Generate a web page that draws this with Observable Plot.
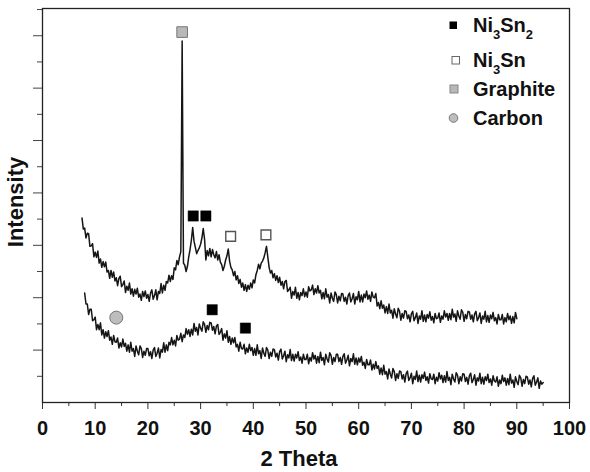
<!DOCTYPE html>
<html>
<head>
<meta charset="utf-8">
<script src="https://cdn.jsdelivr.net/npm/d3@7"></script>
<script src="https://cdn.jsdelivr.net/npm/@observablehq/plot@0.6"></script>
<style>
  html, body { margin: 0; padding: 0; background: #fff; }
  #wrap { position: relative; width: 590px; height: 472px; }
  #legend { position: absolute; left: 0; top: 0; pointer-events: none; }
  #legend text { font-family: "Liberation Sans", Arial, sans-serif; font-weight: bold; fill: #111; }
</style>
</head>
<body>
<div id="wrap"></div>
<script>
// ---- data ----
const thetaStep = 0.25;
const topStart = 7.5;
const topIntensity = [
  3.52, 3.31,
  3.33, 3.14, 3.23, 3.22,
  2.98, 2.99, 3.03, 2.78,
  2.87, 2.77, 2.89, 2.66,
  2.74, 2.58, 2.69, 2.59,
  2.68, 2.49, 2.52, 2.37,
  2.52, 2.39, 2.49, 2.32,
  2.38, 2.23, 2.37, 2.41,
  2.21, 2.25, 2.32, 2.10,
  2.22, 2.14, 2.28, 2.07,
  2.17, 2.03, 2.16, 2.07,
  2.18, 2.01, 2.07, 1.95,
  2.12, 2.02, 2.13, 1.99,
  2.06, 1.93, 2.09, 2.15,
  1.97, 2.04, 2.15, 1.96,
  2.12, 2.08, 2.27, 2.09,
  2.24, 2.14, 2.31, 2.28,
  2.43, 2.31, 2.42, 2.35,
  2.57, 2.53, 2.71, 2.63,
  2.78, 2.88, 6.90, 2.66,
  2.62, 2.50, 2.60, 2.78,
  2.92, 3.10, 3.34, 3.08,
  2.96, 2.84, 2.90, 2.95,
  3.02, 3.14, 3.32, 3.12,
  2.72, 2.90, 2.80, 2.94,
  2.78, 2.92, 2.82, 2.76,
  2.88, 2.72, 2.82, 2.68,
  2.63, 2.52, 2.60, 2.72,
  2.80, 2.93, 2.70, 2.58,
  2.53, 2.42, 2.50, 2.34,
  2.42, 2.27, 2.35, 2.20,
  2.28, 2.14, 2.25, 2.12,
  2.24, 2.16, 2.28, 2.19,
  2.34, 2.28, 2.44, 2.52,
  2.64, 2.55, 2.66, 2.70,
  2.76, 2.86, 2.98, 2.78,
  2.58, 2.47, 2.52, 2.38,
  2.46, 2.33, 2.42, 2.29,
  2.39, 2.24, 2.31, 2.17,
  2.31, 2.33, 2.12, 2.15,
  2.20, 1.99, 2.12, 2.05,
  2.20, 1.99, 2.10, 1.96,
  2.10, 2.04, 2.17, 2.02,
  2.11, 2.01, 2.21, 2.13,
  2.15, 2.24, 2.06, 2.17,
  2.09, 2.23, 2.09, 2.14,
  1.98, 2.10, 1.98, 2.17,
  2.01, 2.06, 1.90, 2.09,
  1.99, 1.93, 2.11, 2.06,
  1.90, 2.03, 1.94, 2.08,
  2.07, 1.93, 2.01, 1.88,
  2.04, 2.09, 1.92, 1.98,
  2.08, 1.88, 2.02, 1.96,
  2.12, 1.92, 2.05, 1.92,
  2.07, 2.00, 2.13, 1.97,
  2.05, 1.93, 2.11, 2.01,
  2.00, 2.08, 1.84, 1.91,
  1.79, 1.94, 1.80, 1.86,
  1.71, 1.83, 1.70, 1.88,
  1.71, 1.76, 1.61, 1.79,
  1.69, 1.62, 1.80, 1.74,
  1.57, 1.70, 1.61, 1.75,
  1.74, 1.60, 1.67, 1.54,
  1.69, 1.74, 1.56, 1.62,
  1.71, 1.51, 1.65, 1.59,
  1.75, 1.55, 1.67, 1.54,
  1.68, 1.61, 1.73, 1.57,
  1.64, 1.52, 1.70, 1.60,
  1.61, 1.71, 1.53, 1.65,
  1.59, 1.75, 1.63, 1.70,
  1.57, 1.70, 1.58, 1.78,
  1.63, 1.69, 1.55, 1.75,
  1.65, 1.59, 1.77, 1.72,
  1.55, 1.68, 1.60, 1.74,
  1.73, 1.59, 1.67, 1.54,
  1.69, 1.74, 1.56, 1.62,
  1.71, 1.51, 1.65, 1.59,
  1.74, 1.54, 1.66, 1.53,
  1.67, 1.60, 1.72, 1.56,
  1.62, 1.50, 1.68, 1.58,
  1.58, 1.68, 1.50, 1.62,
  1.54, 1.70, 1.58, 1.65,
  1.51, 1.64, 1.52, 1.72,
  1.60
];

const bottomStart = 8;
const bottomIntensity = [
  2.09, 1.88, 1.88, 1.68,
  1.78, 1.78, 1.56, 1.58,
  1.63, 1.39, 1.49, 1.39,
  1.52, 1.29, 1.39, 1.23,
  1.35, 1.26, 1.37, 1.19,
  1.25, 1.11, 1.28, 1.16,
  1.15, 1.23, 1.04, 1.14,
  1.06, 1.21, 1.07, 1.13,
  0.98, 1.10, 0.96, 1.15,
  0.98, 1.03, 0.88, 1.08,
  0.98, 0.91, 1.08, 1.03,
  0.86, 0.98, 0.90, 1.03,
  1.03, 0.89, 0.97, 0.84,
  1.00, 1.05, 0.88, 0.94,
  1.04, 0.85, 1.01, 0.96,
  1.14, 0.96, 1.10, 0.99,
  1.15, 1.10, 1.24, 1.10,
  1.19, 1.08, 1.28, 1.19,
  1.21, 1.32, 1.16, 1.29,
  1.24, 1.41, 1.30, 1.39,
  1.26, 1.40, 1.29, 1.51,
  1.36, 1.43, 1.29, 1.50,
  1.42, 1.36, 1.54, 1.49,
  1.34, 1.47, 1.39, 1.53,
  1.52, 1.38, 1.45, 1.31,
  1.46, 1.49, 1.30, 1.34,
  1.41, 1.19, 1.31, 1.23,
  1.37, 1.15, 1.26, 1.11,
  1.23, 1.14, 1.24, 1.06,
  1.11, 0.98, 1.15, 1.03,
  1.02, 1.11, 0.93, 1.04,
  0.96, 1.11, 0.99, 1.05,
  0.90, 1.03, 0.90, 1.10,
  0.93, 0.99, 0.84, 1.04,
  0.94, 0.88, 1.05, 1.00,
  0.84, 0.96, 0.88, 1.02,
  1.01, 0.87, 0.94, 0.81,
  0.97, 1.02, 0.83, 0.89,
  0.98, 0.78, 0.91, 0.85,
  1.01, 0.80, 0.92, 0.79,
  0.92, 0.85, 0.97, 0.80,
  0.87, 0.75, 0.92, 0.82,
  0.82, 0.92, 0.74, 0.86,
  0.79, 0.95, 0.83, 0.90,
  0.75, 0.88, 0.76, 0.96,
  0.80, 0.86, 0.72, 0.92,
  0.83, 0.77, 0.95, 0.90,
  0.73, 0.86, 0.78, 0.92,
  0.92, 0.78, 0.86, 0.73,
  0.88, 0.93, 0.75, 0.81,
  0.90, 0.70, 0.84, 0.78,
  0.93, 0.73, 0.85, 0.72,
  0.85, 0.77, 0.88, 0.71,
  0.77, 0.65, 0.82, 0.72,
  0.72, 0.81, 0.62, 0.73,
  0.64, 0.78, 0.65, 0.70,
  0.54, 0.66, 0.53, 0.71,
  0.54, 0.59, 0.45, 0.64,
  0.54, 0.47, 0.65, 0.59,
  0.42, 0.55, 0.46, 0.60,
  0.59, 0.45, 0.53, 0.39,
  0.55, 0.60, 0.42, 0.47,
  0.56, 0.36, 0.50, 0.44,
  0.60, 0.40, 0.52, 0.39,
  0.53, 0.46, 0.58, 0.42,
  0.49, 0.37, 0.55, 0.45,
  0.44, 0.54, 0.36, 0.48,
  0.41, 0.57, 0.45, 0.52,
  0.38, 0.51, 0.39, 0.59,
  0.42, 0.48, 0.34, 0.54,
  0.45, 0.39, 0.57, 0.52,
  0.36, 0.49, 0.41, 0.55,
  0.54, 0.40, 0.48, 0.35,
  0.51, 0.56, 0.38, 0.44,
  0.53, 0.33, 0.47, 0.41,
  0.56, 0.36, 0.48, 0.35,
  0.49, 0.42, 0.54, 0.38,
  0.45, 0.33, 0.51, 0.41,
  0.39, 0.49, 0.31, 0.43,
  0.36, 0.52, 0.40, 0.47,
  0.33, 0.46, 0.34, 0.54,
  0.37, 0.43, 0.29, 0.49,
  0.40, 0.34, 0.52, 0.47,
  0.31, 0.44, 0.36, 0.50,
  0.49, 0.35, 0.43, 0.30,
  0.46, 0.51, 0.33, 0.39,
  0.47, 0.27, 0.41, 0.35,
  0.38
];

const markerPhase = ["Graphite", "Ni3Sn2", "Ni3Sn2", "Ni3Sn", "Ni3Sn", "Carbon", "Ni3Sn2", "Ni3Sn2"];
const markerTheta = [26.5, 28.6, 31.0, 35.7, 42.4, 14.0, 32.2, 38.5];
const markerIntensity = [7.07, 3.56, 3.56, 3.17, 3.20, 1.62, 1.77, 1.42];

const xTicks = [0, 10, 20, 30, 40, 50, 60, 70, 80, 90, 100];
const xMinorTicks = [5, 15, 25, 35, 45, 55, 65, 75, 85, 95];
const yTicks = [1, 2, 3, 4, 5, 6, 7];
const yMinorTicks = [0.5, 1.5, 2.5, 3.5, 4.5, 5.5, 6.5, 7.5];

const xLabel = "2 Theta";
const yLabel = "Intensity";

// ---- build tables ----
const topCurve = topIntensity.map((v, i) => ({theta: topStart + i * thetaStep, intensity: v}));
const bottomCurve = bottomIntensity.map((v, i) => ({theta: bottomStart + i * thetaStep, intensity: v}));
const markers = markerPhase.map((p, i) => ({phase: p, theta: markerTheta[i], intensity: markerIntensity[i]}));
const byPhase = p => markers.filter(d => d.phase === p);

const chart = Plot.plot({
  width: 590,
  height: 472,
  marginLeft: 42,
  marginRight: 21,
  marginTop: 8,
  marginBottom: 70,
  style: {fontFamily: "'Liberation Sans', Arial, sans-serif", fontWeight: "bold", fontSize: "20px", color: "#111", background: "#fff", overflow: "visible"},
  x: {domain: [0, 100], label: null},
  y: {domain: [0, 7.52], label: null},
  marks: [
    Plot.axisX(xTicks, {tickSize: 7, tickPadding: 11, stroke: "#333", fontSize: 20, fontWeight: "bold", label: null}),
    Plot.axisX(xMinorTicks, {tickSize: 4, stroke: "#333", tickFormat: () => "", label: null}),
    Plot.axisY(yTicks, {tickSize: 9, stroke: "#444", tickFormat: () => "", label: null}),
    Plot.axisY(yMinorTicks, {tickSize: 5, stroke: "#444", tickFormat: () => "", label: null}),
    Plot.frame({stroke: "#222", strokeWidth: 1.3}),
    Plot.line(topCurve, {x: "theta", y: "intensity", stroke: "#151515", strokeWidth: 1.5}),
    Plot.line(bottomCurve, {x: "theta", y: "intensity", stroke: "#151515", strokeWidth: 1.5}),
    Plot.dot(byPhase("Ni3Sn2"), {x: "theta", y: "intensity", symbol: "square", r: 5.8, fill: "#000", stroke: "#000", strokeWidth: 0.5}),
    Plot.dot(byPhase("Ni3Sn"), {x: "theta", y: "intensity", symbol: "square", r: 5.5, fill: "#fff", stroke: "#555", strokeWidth: 1.4}),
    Plot.dot(byPhase("Graphite"), {x: "theta", y: "intensity", symbol: "square", r: 6, fill: "#b8b8b8", stroke: "#777", strokeWidth: 1}),
    Plot.dot(byPhase("Carbon"), {x: "theta", y: "intensity", symbol: "circle", r: 6.5, fill: "#bdbdbd", stroke: "#777", strokeWidth: 1}),
    Plot.text([xLabel], {frameAnchor: "bottom", dx: -7, dy: 63, fontSize: 22, fontWeight: "bold", fill: "#111"})
  ]
});

const wrap = document.getElementById("wrap");
wrap.appendChild(chart);

// ---- legend (inside the plot, upper right) and y-axis title ----
const NS = "http://www.w3.org/2000/svg";
const leg = document.createElementNS(NS, "svg");
leg.setAttribute("id", "legend");
leg.setAttribute("width", 590);
leg.setAttribute("height", 472);
leg.innerHTML = `
  <text transform="translate(23,202) rotate(-90)" text-anchor="middle" font-size="22">${yLabel}</text>
  <rect x="449.5" y="21.5" width="7.5" height="7.5" fill="#000"/>
  <text x="473" y="32" font-size="20">Ni<tspan font-size="13" dy="7">3</tspan><tspan dy="-7">Sn</tspan><tspan font-size="13" dy="7">2</tspan></text>
  <rect x="452" y="56.5" width="7.5" height="7.5" fill="#fff" stroke="#666" stroke-width="1"/>
  <text x="473" y="67" font-size="20">Ni<tspan font-size="13" dy="7">3</tspan><tspan dy="-7">Sn</tspan></text>
  <rect x="450" y="85" width="8" height="8" fill="#b8b8b8" stroke="#888" stroke-width="1"/>
  <text x="473" y="96" font-size="20">Graphite</text>
  <circle cx="453.5" cy="118" r="4.3" fill="#bdbdbd" stroke="#777" stroke-width="1"/>
  <text x="473" y="125" font-size="20">Carbon</text>
`;
wrap.appendChild(leg);
</script>
</body>
</html>
